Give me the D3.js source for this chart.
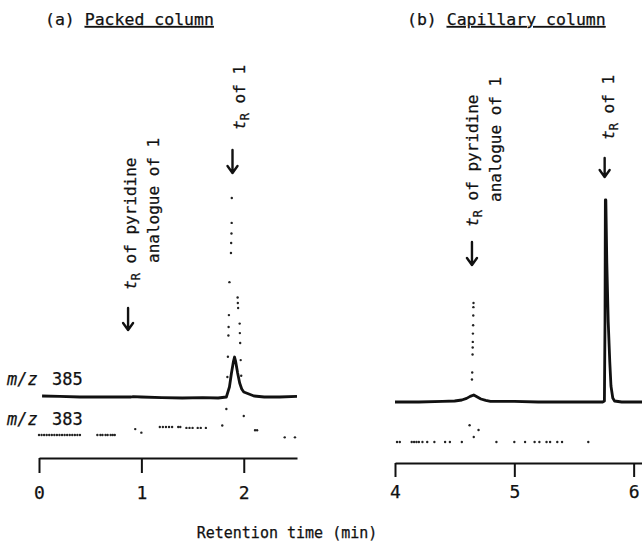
<!DOCTYPE html>
<html lang="en">
<head>
<meta charset="utf-8">
<title>Retention time chromatograms</title>
<script src="https://d3js.org/d3.v7.min.js"></script>
<style>
  body { margin: 0; background: #fff; }
  text { font-family: "DejaVu Sans Mono", "Liberation Mono", monospace; fill: #111; stroke: #111; stroke-width: 0.25px; }
</style>
</head>
<body>
<div id="chart"></div>
<script>
// ---- data (retention time in min, response in arbitrary units) ----
var leftTicks = [0, 1, 2];
var rightTicks = [4, 5, 6];

// (a) packed column, m/z 385 (solid trace)
var packed385Time = [0.03, 0.2, 0.4, 0.6, 0.8, 0.9, 0.92, 1.0, 1.2, 1.4, 1.6, 1.75, 1.83, 1.86, 1.88, 1.90, 1.91, 1.92, 1.94, 1.96, 1.98, 2.0, 2.05, 2.1, 2.2, 2.35, 2.52];
var packed385Value = [0.5, 0.3, 0, 0, 0, 0, 0.2, 0, -0.3, -0.5, -0.3, -0.5, 0, 5, 12, 18, 20, 18, 12, 7, 4, 2.5, 1.5, 0.5, 0, 0, 0.3];

// (a) packed column, m/z 383 (dotted trace)
var packed383Time = [0.0, 0.025, 0.05, 0.075, 0.1, 0.125, 0.15, 0.175, 0.2, 0.225, 0.25, 0.275, 0.3, 0.325, 0.35, 0.375, 0.4,
  0.57, 0.6, 0.62, 0.65, 0.67, 0.7, 0.72, 0.74, 0.94, 1.0,
  1.18, 1.21, 1.24, 1.27, 1.3, 1.36, 1.38, 1.44, 1.47, 1.5, 1.55, 1.58, 1.63,
  1.79, 1.83, 1.84, 1.845, 1.85, 1.852, 1.855, 1.86, 1.875, 1.877, 1.88, 1.882, 1.883,
  1.94, 1.942, 1.945, 1.96, 1.962, 1.965, 1.97, 1.975, 2.0, 2.11, 2.13, 2.4, 2.5];
var packed383Value = [0, 0, 0, 0, 0, 0, 0, 0, 0, 0, 0, 0, 0, 0, 0, 0, 0,
  0, 0, 0, 0, 0, 0, 0, 0, 2.5, 1,
  3.4, 3.4, 3.4, 3.4, 3.4, 3.4, 3.4, 3, 3, 3, 3, 3, 3,
  4, 11, 24.5, 33, 42, 45.6, 50.6, 64.5, 76.8, 81, 85, 89.5, 100,
  58, 55.7, 53.6, 47, 43, 38.8, 31.6, 25, 8, 2, 2, -1, -1];

// (b) capillary column, m/z 385 (solid trace)
var capillary385Time = [4.0, 4.2, 4.4, 4.5, 4.56, 4.6, 4.63, 4.66, 4.69, 4.72, 4.76, 4.8, 5.0, 5.2, 5.4, 5.6, 5.74, 5.755, 5.76, 5.763, 5.767, 5.775, 5.787, 5.8, 5.81, 5.825, 5.84, 5.9, 6.07];
var capillary385Value = [0, 0, 0.3, 0.5, 1, 1.8, 2.8, 3.5, 2.5, 1.5, 0.8, 0.3, 0.3, 0, 0, 0, 0, 0.5, 40, 101, 101, 70, 40, 20, 8, 2, 0.5, 0, 0];

// (b) capillary column, m/z 383 (dotted trace)
var capillary383Time = [4.017, 4.04, 4.14, 4.16, 4.18, 4.2, 4.23, 4.27, 4.33, 4.42, 4.46, 4.56,
  4.625, 4.645, 4.647, 4.65, 4.651, 4.652, 4.653, 4.655, 4.656, 4.657, 4.658, 4.66, 4.7,
  4.85, 5.0, 5.09, 5.17, 5.21, 5.27, 5.3, 5.36, 5.4, 5.62];
var capillary383Value = [0, 0, 0, 0, 0, 0, 0, 0, 0, 0, 0, 0,
  12, 45, 50, 63, 68, 72, 78, 84, 91, 97, 100, 3.6, 8.6,
  0, 0, 0, 0, 0, 0, 0, 0, 0, 0];

// retention-time markers
var packedMarks = [{t: 0.87, label: "pyr"}, {t: 1.89, label: "one"}];
var capillaryMarks = [{t: 4.645, label: "pyr"}, {t: 5.757, label: "one"}];

// ---- drawing ----
var w = 642, h = 549;
var svg = d3.select("#chart").append("svg")
  .attr("width", w).attr("height", h)
  .style("background-color", "#fff");

var xL = d3.scaleLinear().domain([0, 2.52]).range([39, 297]);
var xR = d3.scaleLinear().domain([4, 6.07]).range([395, 642]);
var yL385 = d3.scaleLinear().domain([0, 100]).range([397, 197]);
var yL383 = d3.scaleLinear().domain([0, 100]).range([435, 198]);
var yR385 = d3.scaleLinear().domain([0, 100]).range([402, 202]);
var yR383 = d3.scaleLinear().domain([0, 100]).range([442, 303]);

function zip(ts, vs) { return ts.map(function(t, i) { return {t: t, v: vs[i]}; }); }

function solidTrace(ts, vs, x, y) {
  var line = d3.line().x(function(d) { return x(d.t); }).y(function(d) { return y(d.v); });
  svg.append("path").datum(zip(ts, vs))
    .attr("d", line)
    .attr("fill", "none").attr("stroke", "#111")
    .attr("stroke-width", 2.8).attr("stroke-linejoin", "round");
}

function dotTrace(ts, vs, x, y) {
  svg.append("g").selectAll("circle")
    .data(zip(ts, vs)).enter().append("circle")
    .attr("cx", function(d) { return x(d.t); })
    .attr("cy", function(d) { return y(d.v); })
    .attr("r", 1.2).attr("fill", "#222");
}

solidTrace(packed385Time, packed385Value, xL, yL385);
dotTrace(packed383Time, packed383Value, xL, yL383);
solidTrace(capillary385Time, capillary385Value, xR, yR385);
dotTrace(capillary383Time, capillary383Value, xR, yR383);

// axes
function drawAxis(x, ticks, yPos, size, pad) {
  var g = svg.append("g").attr("transform", "translate(0," + yPos + ")")
    .call(d3.axisBottom(x).tickValues(ticks).tickSize(size).tickSizeOuter(0)
      .tickPadding(pad).tickFormat(d3.format("d")));
  g.select(".domain").attr("stroke", "#111").attr("stroke-width", 2);
  g.selectAll(".tick line").attr("stroke", "#111").attr("stroke-width", 2);
  g.selectAll(".tick text").attr("font-size", 18)
    .attr("font-family", "DejaVu Sans Mono, monospace").attr("fill", "#111");
}
drawAxis(xL, leftTicks, 458, 15, 13);
drawAxis(xR, rightTicks, 463, 14, 8);

svg.append("text").attr("x", 287).attr("y", 538)
  .attr("text-anchor", "middle").attr("font-size", 15)
  .text("Retention time (min)");

// panel titles
function title(x, tag, name) {
  var t = svg.append("text").attr("x", x).attr("y", 25).attr("font-size", 16.5);
  t.append("tspan").text(tag + " ");
  t.append("tspan").attr("text-decoration", "underline").text(name);
}
title(45, "(a)", "Packed column");
title(407, "(b)", "Capillary column");

// m/z labels
function mzLabel(yBase, num) {
  var t = svg.append("text").attr("x", 7).attr("y", yBase).attr("font-size", 17);
  t.append("tspan").attr("font-style", "italic").text("m/z");
  t.append("tspan").attr("x", 52).text(num);
}
mzLabel(yL385(0) - 12, "385");
mzLabel(yL383(0) - 10, "383");

// markers: arrow + rotated label
function arrow(xp, y0, y1) {
  svg.append("path")
    .attr("d", "M" + xp + "," + y0 + "V" + y1 + "M" + (xp - 5) + "," + (y1 - 7) + "L" + xp + "," + y1 + "L" + (xp + 5) + "," + (y1 - 7))
    .attr("fill", "none").attr("stroke", "#111").attr("stroke-width", 2.4)
    .attr("stroke-linecap", "round").attr("stroke-linejoin", "round");
}

function vLabel(xc, yStart, withT, rest) {
  var t = svg.append("text")
    .attr("transform", "translate(" + (xc + 5.5) + "," + yStart + ") rotate(-90)")
    .attr("font-size", 16);
  if (withT) {
    t.append("tspan").attr("font-style", "italic").text("t");
    t.append("tspan").attr("dy", 4).attr("font-size", 12).text("R");
    t.append("tspan").attr("dy", -4).text(rest);
  } else {
    t.text(rest);
  }
}

function marks(list, x, cfg) {
  list.forEach(function(m) {
    var c = cfg[m.label];
    var xp = x(m.t);
    arrow(xp, c.a0, c.a1);
    if (m.label === "pyr") {
      vLabel(xp + c.dx, c.s1, true, " of pyridine");
      vLabel(xp + c.dx + 23, c.s2, false, "analogue of 1");
    } else {
      vLabel(xp + c.dx, c.s1, true, " of 1");
    }
  });
}

marks(packedMarks, xL, {
  pyr: {a0: 308, a1: 330, dx: 2, s1: 290, s2: 263},
  one: {a0: 150, a1: 173, dx: 7, s1: 130}
});
marks(capillaryMarks, xR, {
  pyr: {a0: 242, a1: 265, dx: 1, s1: 227, s2: 202},
  one: {a0: 158, a1: 177, dx: 4, s1: 140}
});
</script>
</body>
</html>
